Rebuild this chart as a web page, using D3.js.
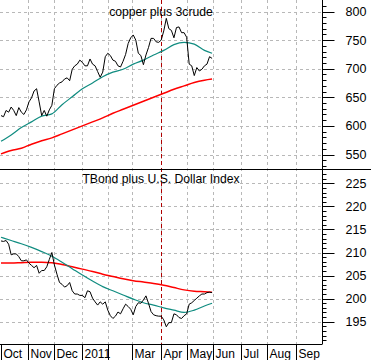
<!DOCTYPE html>
<html><head><meta charset="utf-8">
<script src="https://cdn.jsdelivr.net/npm/d3@7"></script>
<style>body{margin:0;background:#fff}svg{display:block}text{font-family:Arial,"Liberation Sans",sans-serif}</style>
</head><body><svg id="c" width="371" height="360"></svg>
<script>
// trading-day index of each month start (Oct 2010 = 0)
const monthIdx = [0, 21, 42, 64, 84, 103, 126, 146, 167, 189, 209, 232];
const monthLabels = ["Oct", "Nov", "Dec", "2011", "", "Mar", "Apr", "May", "Jun", "Jul", "Aug", "Sep"];
const lastIdx = 253;
const markerIdx = 126; // Apr 1 marker line
const dayIdx = d3.range(0, 167, 2);      // sampled trading days for price series
const maIdx = [0,8,16,24,32,40,48,56,64,72,80,88,96,104,112,120,128,136,144,152,160,166];

const copperTitle = "copper plus 3crude";
const copper = [618,616,627,624,633,627,618,632,624,620,
  628,642,649,661,665,642,618,627,617,628,
  636,665,671,675,677,682,684,679,699,705,
  708,715,711,705,705,717,708,705,695,685,
  694,721,727,723,715,713,705,703,713,725,
  744,754,759,750,727,723,707,724,737,753,
  753,747,746,750,766,788,770,767,754,772,
  773,763,763,755,708,705,688,702,696,699,
  705,708,721,718];
const copperMA50 = [573,584,597,607,617,621,637,651,665,675,686,694,699,708,715,724,732,742,746,743,732,727];
const copperMA200 = [551,557,561,568,574,579,586,593,600,607,614,622,629,636,643,650,657,664,670,676,680,682];
const copperTicks = [550, 600, 650, 700, 750, 800];

const bondTitle = "TBond plus U.S. Dollar Index";
const tbond = [212.5,212.4,212.6,211.8,209.5,209.7,209.7,209.1,208.2,208.2,
  208.4,207.7,207.2,206.7,207.2,205.5,206.1,206.1,206.9,208.5,
  210.0,207.3,205.3,203.5,203.1,202.5,202.8,203.5,201.7,201.0,
  201.0,200.7,200.7,200.2,201.7,201.5,200.1,199.3,198.6,199.3,
  198.8,199.3,197.5,196.3,195.7,196.2,197.1,196.7,197.8,198.8,
  198.3,197.7,196.5,198.3,199.1,199.0,199.7,200.6,199.0,197.2,
  196.5,196.3,196.2,196.2,195.4,193.9,194.8,194.8,196.7,196.5,
  195.9,195.7,196.3,196.7,198.8,199.1,199.6,200.1,200.6,201.0,
  201.0,201.3,201.4,201.3];
const tbondMA50 = [213.3,212.6,211.9,211.1,210.2,209.2,207.9,206.5,205.1,203.8,202.6,201.7,200.8,199.9,199.1,198.6,198.0,197.5,197.0,197.5,198.4,199.0];
const tbondMA200 = [207.7,207.7,207.8,207.9,207.9,207.8,207.4,206.9,206.4,205.9,205.3,204.8,204.3,203.9,203.6,203.3,202.9,202.4,201.9,201.6,201.5,201.4];
const bondTicks = [195, 200, 205, 210, 215, 220, 225];

const svg = d3.select("#c");
const W = 322.5, topH = 169.5, botTop = 170, botH = 344;
const x = d3.scaleLinear().domain([0, lastIdx]).range([1, 322.7]);
const yTop = d3.scaleLinear().domain([550, 800]).range([154.5, 11.5]);
const yBot = d3.scaleLinear().domain([195, 225]).range([321.7, 183.3]);

const defs = svg.append("defs");
defs.append("clipPath").attr("id","ct").append("rect").attr("x",0).attr("y",0).attr("width",W).attr("height",topH);
defs.append("clipPath").attr("id","cb").append("rect").attr("x",0).attr("y",botTop).attr("width",W).attr("height",botH-botTop);

const gridCol = "#b8b8b8";
// vertical grid
svg.append("g").selectAll("line").data(monthIdx.slice(1)).join("line")
  .attr("x1", d => Math.round(x(d)) + 0.5).attr("x2", d => Math.round(x(d)) + 0.5)
  .attr("y1", 0).attr("y2", botH)
  .attr("stroke", gridCol).attr("stroke-dasharray", "3,3");
// horizontal grids
svg.append("g").selectAll("line").data(copperTicks).join("line")
  .attr("x1", 0).attr("x2", W).attr("y1", d => Math.round(yTop(d)) + 0.5).attr("y2", d => Math.round(yTop(d)) + 0.5)
  .attr("stroke", gridCol).attr("stroke-dasharray", "3,3");
svg.append("g").selectAll("line").data(bondTicks).join("line")
  .attr("x1", 0).attr("x2", W).attr("y1", d => Math.round(yBot(d)) + 0.5).attr("y2", d => Math.round(yBot(d)) + 0.5)
  .attr("stroke", gridCol).attr("stroke-dasharray", "3,3");

// marker line
svg.append("line").attr("x1", Math.round(x(markerIdx)) + 0.5).attr("x2", Math.round(x(markerIdx)) + 0.5)
  .attr("y1", 0).attr("y2", botH).attr("stroke", "#b00000").attr("stroke-dasharray", "4,3");

function drawPanel(clip, y, idx, vals, ma50, ma200) {
  const g = svg.append("g").attr("clip-path", `url(#${clip})`);
  const smooth = d3.line().x(d => x(d[0])).y(d => y(d[1])).curve(d3.curveMonotoneX);
  const raw = d3.line().x(d => x(d[0])).y(d => y(d[1]));
  g.append("path").attr("d", smooth(maIdx.map((d, i) => [d, ma200[i]])))
    .attr("fill", "none").attr("stroke", "#ff0000").attr("stroke-width", 1.5);
  g.append("path").attr("d", smooth(maIdx.map((d, i) => [d, ma50[i]])))
    .attr("fill", "none").attr("stroke", "#108c80").attr("stroke-width", 1.2);
  g.append("path").attr("d", raw(idx.map((d, i) => [d, vals[i]])))
    .attr("fill", "none").attr("stroke", "#000").attr("stroke-width", 1);
}
drawPanel("ct", yTop, dayIdx, copper, copperMA50, copperMA200);
drawPanel("cb", yBot, dayIdx, tbond, tbondMA50, tbondMA200);

// separator & frame lines
svg.append("line").attr("x1", 0).attr("x2", 371).attr("y1", topH).attr("y2", topH).attr("stroke", "#000");
svg.append("line").attr("x1", 0).attr("x2", W).attr("y1", botH + 0.5).attr("y2", botH + 0.5).attr("stroke", "#000");
svg.append("line").attr("x1", W).attr("x2", W).attr("y1", 0).attr("y2", botH).attr("stroke", "#000");

// right axes
function rightAxis(y, major, minorStep, lo, hi, fs) {
  const g = svg.append("g").attr("transform", `translate(${W},0)`);
  const minors = d3.range(lo, hi + minorStep / 2, minorStep);
  g.selectAll("line.mi").data(minors).join("line").attr("class", "mi")
    .attr("x1", 0).attr("x2", d => major.includes(d) ? 12 : 4)
    .attr("y1", d => Math.round(y(d)) + 0.5).attr("y2", d => Math.round(y(d)) + 0.5)
    .attr("stroke", "#000");
  g.selectAll("text").data(major).join("text")
    .attr("x", 23).attr("y", d => y(d)).attr("dy", "0.36em")
    .attr("font-size", fs).attr("fill", "#000").text(d => d);
}
rightAxis(yTop, copperTicks, 10, 530, 810, 12.5);
rightAxis(yBot, bondTicks, 1, 191, 227, 12.5);

// titles
svg.append("text").attr("x", 161).attr("y", 15.5).attr("text-anchor", "middle").attr("font-size", 12.2).text(copperTitle);
svg.append("text").attr("x", 161).attr("y", 183).attr("text-anchor", "middle").attr("font-size", 12.2).text(bondTitle);

// month axis
const mg = svg.append("g");
mg.selectAll("line").data(monthIdx).join("line")
  .attr("x1", d => Math.round(x(d)) + 0.5).attr("x2", d => Math.round(x(d)) + 0.5)
  .attr("y1", botH).attr("y2", 360).attr("stroke", "#000");
mg.selectAll("text").data(monthIdx).join("text")
  .attr("x", d => Math.round(x(d)) + 2.5).attr("y", 357.5)
  .attr("font-size", 12).attr("fill", "#000")
  .text((d, i) => monthLabels[i]);
</script></body></html>
